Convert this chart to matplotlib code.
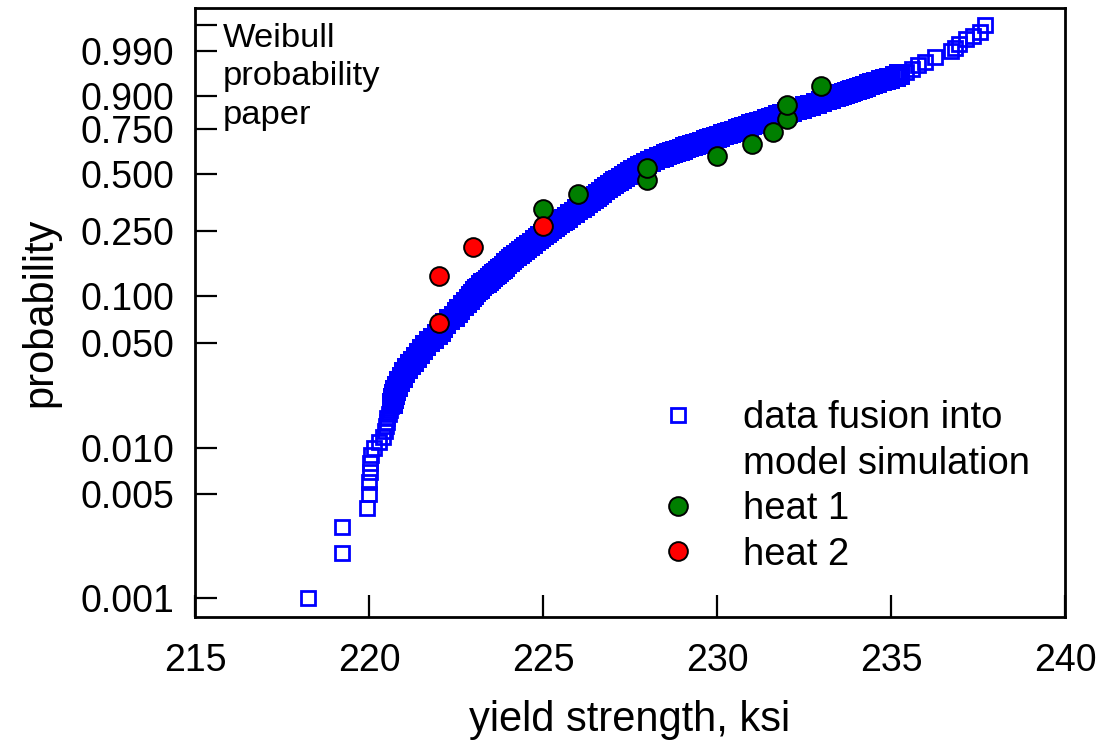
import numpy as np
import matplotlib
matplotlib.use("Agg")
import matplotlib.pyplot as plt
from matplotlib.lines import Line2D

plt.rcParams["font.family"] = ["Liberation Sans", "DejaVu Sans"]

# simulated yield strengths (ksi) read along the band, with their probabilities
fusion_prob = [
    0.001, 0.002, 0.003, 0.004, 0.005, 0.006, 0.007, 0.008, 0.009, 0.010,
    0.011, 0.012, 0.013, 0.014, 0.015, 0.016, 0.017, 0.018, 0.019, 0.020,
    0.0215, 0.023, 0.0245, 0.026, 0.028, 0.030, 0.032, 0.034, 0.036, 0.038,
    0.0405, 0.043, 0.0455, 0.048, 0.051, 0.054, 0.057, 0.060, 0.0635, 0.067,
    0.071, 0.075, 0.079, 0.083, 0.0875, 0.092, 0.096, 0.100, 0.103, 0.107,
    0.110, 0.113, 0.117, 0.120, 0.123, 0.127, 0.130, 0.133, 0.137, 0.140,
    0.143, 0.147, 0.150, 0.155, 0.160, 0.165, 0.170, 0.175, 0.180, 0.185,
    0.190, 0.195, 0.200, 0.207, 0.213, 0.220, 0.227, 0.233, 0.240, 0.247,
    0.253, 0.260, 0.267, 0.273, 0.280, 0.287, 0.293, 0.300, 0.31, 0.32,
    0.33, 0.34, 0.35, 0.36, 0.37, 0.38, 0.39, 0.40, 0.41, 0.42,
    0.43, 0.44, 0.45, 0.46, 0.47, 0.48, 0.49, 0.50, 0.51, 0.52,
    0.53, 0.54, 0.55, 0.56, 0.57, 0.58, 0.59, 0.60, 0.607, 0.613,
    0.62, 0.627, 0.633, 0.64, 0.647, 0.653, 0.66, 0.667, 0.673, 0.68,
    0.687, 0.693, 0.70, 0.707, 0.713, 0.72, 0.727, 0.733, 0.74, 0.747,
    0.753, 0.76, 0.767, 0.773, 0.78, 0.787, 0.793, 0.80, 0.807, 0.813,
    0.82, 0.827, 0.833, 0.84, 0.847, 0.853, 0.86, 0.867, 0.873, 0.88,
    0.887, 0.893, 0.90, 0.903, 0.907, 0.91, 0.913, 0.917, 0.92, 0.923,
    0.927, 0.93, 0.933, 0.937, 0.94, 0.943, 0.947, 0.95, 0.953, 0.957,
    0.96, 0.965, 0.97, 0.975, 0.98, 0.985, 0.99, 0.992, 0.994, 0.996,
    0.997, 0.998, 0.999,
]
fusion_ksi = [
    218.25, 219.22, 219.22, 219.94, 220.00, 220.00, 220.03, 220.03, 220.06, 220.14,
    220.29, 220.40, 220.46, 220.50, 220.52, 220.53, 220.57, 220.60, 220.63, 220.66,
    220.69, 220.72, 220.76, 220.80, 220.87, 220.95, 221.02, 221.09, 221.17, 221.25,
    221.35, 221.44, 221.52, 221.61, 221.72, 221.84, 221.94, 222.03, 222.10, 222.18,
    222.31, 222.44, 222.52, 222.59, 222.69, 222.79, 222.86, 222.93, 222.98, 223.05,
    223.10, 223.16, 223.23, 223.29, 223.35, 223.42, 223.48, 223.54, 223.60, 223.66,
    223.71, 223.76, 223.81, 223.88, 223.94, 224.01, 224.08, 224.15, 224.22, 224.30,
    224.37, 224.44, 224.51, 224.60, 224.68, 224.77, 224.85, 224.92, 225.00, 225.08,
    225.15, 225.23, 225.31, 225.38, 225.46, 225.54, 225.61, 225.69, 225.79, 225.88,
    225.98, 226.08, 226.17, 226.26, 226.35, 226.44, 226.51, 226.58, 226.67, 226.75,
    226.84, 226.93, 227.00, 227.07, 227.16, 227.24, 227.33, 227.41, 227.50, 227.59,
    227.69, 227.79, 227.88, 227.97, 228.08, 228.19, 228.32, 228.45, 228.54, 228.62,
    228.71, 228.80, 228.90, 228.99, 229.09, 229.18, 229.28, 229.38, 229.47, 229.57,
    229.67, 229.76, 229.86, 229.96, 230.07, 230.17, 230.28, 230.38, 230.49, 230.59,
    230.69, 230.79, 230.89, 230.99, 231.09, 231.21, 231.32, 231.44, 231.54, 231.65,
    231.75, 231.88, 232.00, 232.13, 232.26, 232.40, 232.53, 232.68, 232.84, 232.99,
    233.12, 233.26, 233.39, 233.47, 233.57, 233.66, 233.73, 233.81, 233.88, 233.98,
    234.07, 234.17, 234.25, 234.36, 234.45, 234.56, 234.72, 234.83, 234.95, 235.11,
    235.23, 235.42, 235.60, 235.78, 235.98, 236.26, 236.72, 236.84, 236.95, 237.16,
    237.36, 237.56, 237.70,
]

heat1_ksi = [225.0, 226.0, 228.0, 228.0, 230.0, 231.0, 231.6, 232.0, 232.0, 233.0]
heat1_prob = [0.333, 0.400, 0.467, 0.533, 0.600, 0.667, 0.733, 0.800, 0.867, 0.933]
heat2_ksi = [222.0, 222.0, 223.0, 225.0]
heat2_prob = [0.067, 0.133, 0.200, 0.267]

prob_ticks = [0.001, 0.005, 0.010, 0.050, 0.100, 0.250, 0.500, 0.750, 0.900, 0.990, 0.999]
x_ticks = [215, 220, 225, 230, 235, 240]

BLUE = "#0000ff"
GREEN = "#007f00"
RED = "#ff0000"


def weibull_fwd(p):
    p = np.clip(np.asarray(p, dtype=float), 1e-12, 1 - 1e-12)
    return np.log(-np.log(1.0 - p))


def weibull_inv(t):
    return 1.0 - np.exp(-np.exp(np.asarray(t, dtype=float)))


sq_style = dict(linestyle="none", marker="s", markersize=10.2,
                markerfacecolor="none", markeredgecolor=BLUE, markeredgewidth=2.0)
dot_style = dict(linestyle="none", marker="o", markersize=13.5,
                 markeredgecolor="black", markeredgewidth=1.4)

W, H = 1111, 750
fig = plt.figure(figsize=(W / 100, H / 100), dpi=100)
ax = fig.add_axes([195 / W, 1 - 617 / H, 870 / W, 609 / H])
ax.set_yscale("function", functions=(weibull_fwd, weibull_inv))

# the crowded middle of the sample overlaps into a solid band, the tails stay open
ksi = np.array(fusion_ksi)
prob = np.array(fusion_prob)
crowded = (prob >= 0.02) & (prob <= 0.96)
ax.plot(ksi[~crowded], prob[~crowded], **sq_style)
ax.plot(ksi[crowded], prob[crowded],
        **{**sq_style, "markersize": 12.0, "markeredgewidth": 3.6})
ax.plot(heat1_ksi, heat1_prob, markerfacecolor=GREEN, **dot_style)
ax.plot(heat2_ksi, heat2_prob, markerfacecolor=RED, **dot_style)

ax.set_xlim(215, 240)
ax.set_ylim(0.000747, 0.999868)
ax.set_xticks(x_ticks)
ax.set_yticks(prob_ticks)
ax.set_yticklabels([f"{p:.3f}" if p < 0.995 else "" for p in prob_ticks])
ax.yaxis.set_minor_locator(matplotlib.ticker.NullLocator())
ax.tick_params(direction="in", length=16, width=1.6, labelsize=27)
ax.tick_params(axis="x", pad=19)
ax.tick_params(axis="y", pad=15)

for s in ax.spines.values():
    s.set_linewidth(2.0)

ax.set_xlabel("yield strength, ksi", fontsize=30, labelpad=15)
ax.set_ylabel("probability", fontsize=30, labelpad=14)

ax.text(0.032, 0.975, "Weibull\nprobability\npaper", transform=ax.transAxes,
        ha="left", va="top", fontsize=24.8, linespacing=1.3)

handles = [
    Line2D([], [], **sq_style),
    Line2D([], [], linestyle="none"),
    Line2D([], [], markerfacecolor=GREEN, **dot_style),
    Line2D([], [], markerfacecolor=RED, **dot_style),
]
labels = ["data fusion into", "model simulation", "heat 1", "heat 2"]
ax.legend(handles, labels, loc="upper left", bbox_to_anchor=(659 / W, 1 - 400 / H),
          bbox_transform=fig.transFigure, frameon=False, fontsize=27.5,
          handlelength=1.0, handletextpad=1.2, labelspacing=0.25,
          borderpad=0, borderaxespad=0)

fig.savefig("out.png", dpi=100)
